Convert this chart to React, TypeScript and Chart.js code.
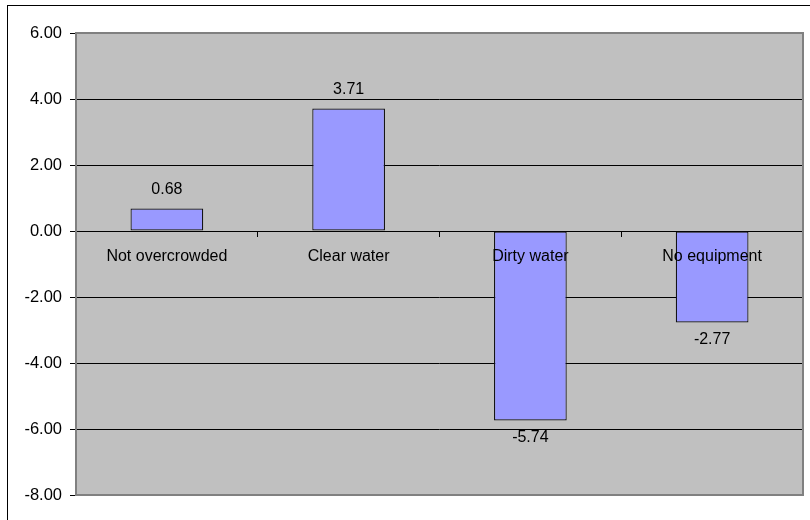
import React, { useEffect, useRef } from "react";
import { Chart, registerables } from "chart.js";

Chart.register(...registerables);

const categories = ["Not overcrowded", "Clear water", "Dirty water", "No equipment"];
const values = [0.68, 3.71, -5.74, -2.77];
const yMin = -8;
const yMax = 6;
const yStep = 2;

const FONT = "'Liberation Sans', Arial, sans-serif";

export default function App() {
  const ref = useRef<HTMLCanvasElement | null>(null);

  useEffect(() => {
    const prevMargin = document.body.style.margin;
    document.body.style.margin = "0";
    const canvas = ref.current;
    if (!canvas) return;

    const framePlugin = {
      id: "frame",
      beforeDraw(chart: any) {
        const { ctx, chartArea: a } = chart;
        ctx.save();
        ctx.fillStyle = "#FFFFFF";
        ctx.fillRect(0, 0, chart.width, chart.height);
        ctx.strokeStyle = "#000000";
        ctx.lineWidth = 1;
        ctx.strokeRect(7.5, 5.5, 820, 540);
        ctx.fillStyle = "#C0C0C0";
        ctx.fillRect(a.left, a.top, a.right - a.left, a.bottom - a.top);
        ctx.restore();
      },
      afterDraw(chart: any) {
        const { ctx, chartArea: a } = chart;
        ctx.save();
        ctx.strokeStyle = "#808080";
        ctx.lineWidth = 2;
        ctx.strokeRect(a.left, a.top, a.right - a.left, a.bottom - a.top);
        ctx.restore();
      },
    };

    const labelPlugin = {
      id: "valueLabels",
      afterDraw(chart: any) {
        const { ctx } = chart;
        const meta = chart.getDatasetMeta(0);
        const ds = chart.data.datasets[0].data as number[];
        const xs = chart.scales.x;
        const y0 = chart.scales.y.getPixelForValue(0);
        ctx.save();
        ctx.font = `16px ${FONT}`;
        ctx.fillStyle = "#000";
        ctx.textAlign = "center";
        ctx.textBaseline = "middle";
        meta.data.forEach((bar: any, i: number) => {
          const v = ds[i];
          const y = v >= 0 ? bar.y - 19 : bar.y + 17;
          ctx.fillText(v.toFixed(2), bar.x, y);
        });
        (chart.data.labels as string[]).forEach((lab: string, i: number) => {
          ctx.fillText(lab, xs.getPixelForValue(i), y0 + 26);
        });
        ctx.restore();
      },
    };

    const chart = new Chart(canvas, {
      type: "bar",
      data: {
        labels: categories,
        datasets: [
          {
            data: values,
            backgroundColor: "#9999FF",
            borderColor: "#111111",
            borderWidth: 1.2,
            borderSkipped: false,
            categoryPercentage: 1,
            barPercentage: 0.4,
          },
        ],
      },
      options: {
        responsive: false,
        animation: false,
        layout: { padding: { left: 0, top: 33, right: 7, bottom: 25 } },
        plugins: {
          legend: { display: false },
          tooltip: { enabled: false },
        },
        scales: {
          x: {
            position: { y: 0 } as any,
            offset: true,
            grid: {
              offset: true,
              drawOnChartArea: false,
              drawTicks: true,
              tickLength: 5,
              tickColor: "#000",
            },
            border: { display: true, color: "#000", width: 1 },
            ticks: {
              color: "rgba(0,0,0,0)",
              font: { family: FONT, size: 16 },
              padding: 11,
              maxRotation: 0,
              autoSkip: false,
            },
          },
          y: {
            min: yMin,
            max: yMax,
            afterFit(scale: any) {
              scale.width = 76;
            },
            ticks: {
              stepSize: yStep,
              color: "#000",
              font: { family: FONT, size: 16.5 },
              padding: 8,
              callback: (v: any) => Number(v).toFixed(2),
            },
            grid: {
              color: (c: any) =>
                c.tick && (c.tick.value === yMax || c.tick.value === yMin) ? "#808080" : "#000",
              tickColor: "#000",
              tickLength: 6,
              lineWidth: 1,
            },
            border: { display: false },
          },
        },
      },
      plugins: [framePlugin, labelPlugin],
    });

    return () => {
      chart.destroy();
      document.body.style.margin = prevMargin;
    };
  }, []);

  return (
    <div style={{ width: 810, height: 520 }}>
      <canvas ref={ref} width={810} height={520} style={{ display: "block" }} />
    </div>
  );
}
